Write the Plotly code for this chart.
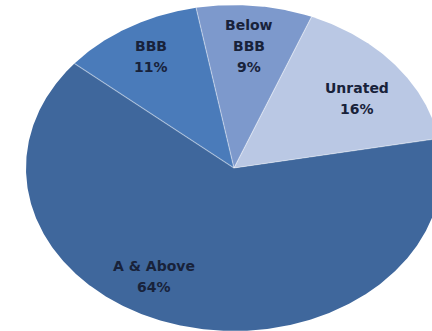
import numpy as np
import plotly.graph_objects as go

# Portfolio split by credit rating (percent)
categories = ["A & Above", "BBB", "Below BBB", "Unrated"]
shares = [64, 11, 9, 16]
colors = ["#3F679C", "#4A7BBA", "#7D99CC", "#BAC8E4"]
label_lines = {
    "A & Above": ["A & Above"],
    "BBB": ["BBB"],
    "Below BBB": ["Below", "BBB"],
    "Unrated": ["Unrated"],
}

# First slice starts this many degrees clockwise from 12 o'clock
start_deg = 79.5
# Label anchor (angle clockwise from top, radius) per slice; None -> slice middle
label_anchor = {"A & Above": (210.0, 0.77), "BBB": (None, 0.79),
                "Below BBB": (None, 0.75), "Unrated": (54.0, 0.73)}

total = float(sum(shares))
fig = go.Figure()

bounds = []
theta0 = start_deg
for name, val, col in zip(categories, shares, colors):
    span = 360.0 * val / total
    t = np.radians(np.linspace(theta0, theta0 + span, max(int(span * 2), 8)))
    xs = np.concatenate([[0.0], np.sin(t), [0.0]])
    ys = np.concatenate([[0.0], np.cos(t), [0.0]])
    fig.add_trace(go.Scatter(x=xs, y=ys, mode="lines", fill="toself",
                             fillcolor=col, line=dict(width=0, color=col),
                             hoverinfo="text", text=f"{name}: {val}%",
                             showlegend=False))
    bounds.append(theta0)
    mid = theta0 + span / 2.0
    ang, rad = label_anchor[name]
    ang = mid if ang is None else ang
    lx = rad * np.sin(np.radians(ang))
    ly = rad * np.cos(np.radians(ang))
    lines = label_lines[name] + [f"{val}%"]
    n = len(lines)
    step = 21
    for i, line in enumerate(lines):
        fig.add_annotation(x=lx, y=ly, text=f"<b>{line}</b>", showarrow=False,
                           yshift=((n - 1) / 2.0 - i) * step,
                           font=dict(family="DejaVu Sans", size=14, color="#18223A"))
    theta0 += span

# Light separators between slices
for b in bounds:
    r = np.radians(b)
    fig.add_trace(go.Scatter(x=[0, np.sin(r)], y=[0, np.cos(r)], mode="lines",
                             line=dict(width=1.2, color="rgba(255,255,255,0.4)"),
                             hoverinfo="skip", showlegend=False))

fig.update_layout(
    width=432, height=331,
    margin=dict(l=0, r=0, t=0, b=0),
    paper_bgcolor="white", plot_bgcolor="white",
    xaxis=dict(range=[-1.125, 0.952], visible=False, fixedrange=True),
    yaxis=dict(range=[-1.0, 1.031], visible=False, fixedrange=True),
)

fig.write_html("out.html", config={"displayModeBar": False})
